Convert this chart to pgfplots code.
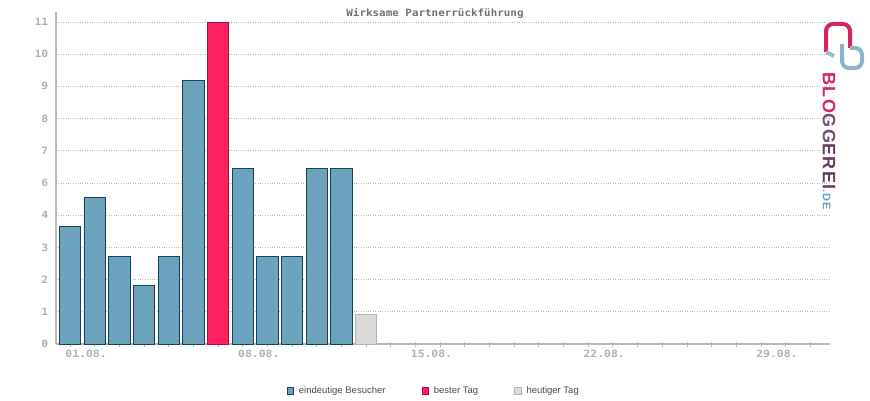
\documentclass[border=0pt]{standalone}
\usepackage{fontspec}
\setmainfont{Liberation Sans}
\newfontfamily\pix{DejaVu Sans Mono}
\newfontfamily\logofont[LetterSpace=9]{Liberation Sans}
\usepackage{pgfplots}
\pgfplotsset{compat=1.18}
\definecolor{bluefill}{HTML}{6AA3BB}
\definecolor{bluedraw}{HTML}{15435A}
\definecolor{redfill}{HTML}{FF2060}
\definecolor{reddraw}{HTML}{A0103A}
\definecolor{grayfill}{HTML}{DADADA}
\definecolor{graydraw}{HTML}{B4B4B4}
\definecolor{axisgray}{HTML}{B8B8B8}
\definecolor{labgray}{HTML}{B0B0B0}
\definecolor{titlegray}{HTML}{707070}
\definecolor{logored}{HTML}{D8245E}
\definecolor{logopurple}{HTML}{7A4E72}
\definecolor{logoblue}{HTML}{6AA3BB}
\begin{document}
\begin{tikzpicture}
\useasboundingbox (0pt,0pt) rectangle (870pt,400pt);
\begin{axis}[
  at={(56pt,56pt)}, anchor=south west,
  scale only axis, width=774pt, height=332pt,
  xmin=0.43, xmax=31.8, ymin=0, ymax=11.34,
  axis x line=bottom, axis y line=left,
  axis line style={-, line width=1.8pt, color=axisgray},
  xtick={1,...,31},
  xticklabels={01.08.,,,,,,,08.08.,,,,,,,15.08.,,,,,,,22.08.,,,,,,,29.08.,,},
  xticklabel style={xshift=16pt, xscale=1.14, font=\pix\bfseries\fontsize{10}{12}\selectfont, text=labgray},
  x tick style={color=axisgray, line width=0.8pt},
  tick align=center, major tick length=5pt,
  ytick={0,1.1,2.2,3.3,4.4,5.5,6.6,7.7,8.8,9.9,11},
  yticklabels={0,1,2,3,4,6,7,8,9,10,11},
  yticklabel style={xscale=1.14, font=\pix\bfseries\fontsize{10}{12}\selectfont, text=labgray, xshift=-1pt},
  y tick style={draw=none},
  ymajorgrids, grid style={dotted, color=axisgray, line width=0.6pt},
  /pgf/number format/assume math mode=true,
  legend columns=3,
  legend style={at={(axis description cs:0.488,-0.1416)}, anchor=center, draw=none, fill=none,
    font=\fontsize{9.5}{11}\selectfont, text=black!70,
    /tikz/every even column/.append style={column sep=34pt}},
  clip=false,
]
\addplot[ybar, bar width=21.5pt, bar shift=0pt, fill=bluefill, draw=bluedraw, line width=0.9pt,
  legend image code/.code={\draw[fill=bluefill, draw=bluedraw, line width=0.7pt] (0pt,-3pt) rectangle (6.5pt,3.5pt); \path (9.5pt,0pt);}]
  coordinates {(1,4) (2,5) (3,3) (4,2) (5,3) (6,9) (8,6) (9,3) (10,3) (11,6) (12,6)};
\addlegendentry{eindeutige Besucher}
\addplot[ybar, bar width=21.5pt, bar shift=0pt, fill=redfill, draw=reddraw, line width=0.9pt,
  legend image code/.code={\draw[fill=redfill, draw=reddraw, line width=0.7pt] (0pt,-3pt) rectangle (6.5pt,3.5pt); \path (9.5pt,0pt);}]
  coordinates {(7,11)};
\addlegendentry{bester Tag}
\addplot[ybar, bar width=21.5pt, bar shift=0pt, fill=grayfill, draw=graydraw, line width=0.9pt,
  legend image code/.code={\draw[fill=grayfill, draw=graydraw, line width=0.7pt] (0pt,-3pt) rectangle (6.5pt,3.5pt); \path (9.5pt,0pt);}]
  coordinates {(13,1)};
\addlegendentry{heutiger Tag}
\end{axis}
\node[xscale=1.09, font=\pix\bfseries\fontsize{10}{12}\selectfont, text=titlegray] at (435pt,387pt) {Wirksame Partnerrückführung};
% logo
\draw[line width=4pt, color=logored, rounded corners=7pt] (826pt,348pt) -- (826pt,376pt) -- (850pt,376pt) -- (850pt,352pt);
\draw[line width=4pt, color=logoblue!80, rounded corners=7pt] (842pt,356pt) -- (842pt,332pt) -- (862pt,332pt) -- (862pt,352pt) -- (850pt,352pt);
\draw[line width=4pt, color=logoblue!70] (826pt,348pt) -- (834pt,344pt);
\node[rotate=-90, anchor=west, font=\logofont\bfseries\fontsize{18}{20}\selectfont, text=logopurple, inner sep=0pt] at (829pt,328pt) {\textcolor{logored}{BLO}GG\textcolor{logopurple!80!black}{EREI}\textcolor{logoblue}{\fontsize{11}{12}\selectfont.DE}};
\end{tikzpicture}
\end{document}
